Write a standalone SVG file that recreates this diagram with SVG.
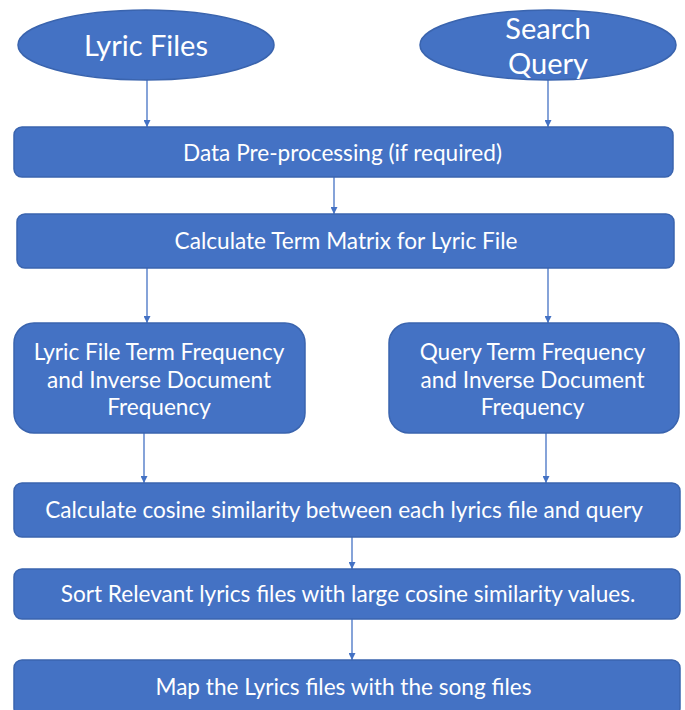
<svg xmlns="http://www.w3.org/2000/svg" width="685" height="710" viewBox="0 0 685 710">
<defs>
<style>
.n{fill:#4472C4;stroke:#3A64AE;stroke-width:1.5}
.t{fill:#fff;font-family:Lato,"Noto Sans",sans-serif;font-size:22.6px;text-anchor:middle;dominant-baseline:central}
.e{font-size:29px}
.c{stroke:#4472C4;stroke-width:1.3;fill:none;marker-end:url(#a)}
</style>
<marker id="a" viewBox="0 0 10 10" refX="10" refY="5" markerWidth="7" markerHeight="7" markerUnits="userSpaceOnUse" orient="auto"><path d="M0,0 L10,5 L0,10 z" fill="#4472C4"/></marker>
</defs>
<rect width="685" height="710" fill="#fff"/>
<g id="connectors">
<line class="c" x1="147" y1="80" x2="147" y2="127"/>
<line class="c" x1="548" y1="80" x2="548" y2="127"/>
<line class="c" x1="334" y1="177" x2="334" y2="214"/>
<line class="c" x1="147" y1="268" x2="147" y2="323"/>
<line class="c" x1="548" y1="268" x2="548" y2="323"/>
<line class="c" x1="144" y1="433" x2="144" y2="483"/>
<line class="c" x1="546" y1="433" x2="546" y2="483"/>
<line class="c" x1="352" y1="537" x2="352" y2="569"/>
<line class="c" x1="352" y1="619" x2="352" y2="660"/>
</g>
<g id="lyric-files"><ellipse class="n" cx="146" cy="45" rx="128" ry="35"/><text class="t e" x="146" y="44">Lyric Files</text></g>
<g id="search-query"><ellipse class="n" cx="548" cy="45" rx="128" ry="35"/><text class="t e" x="548" y="27">Search</text><text class="t e" x="548" y="62">Query</text></g>
<g id="preprocess"><rect class="n" x="14" y="127" width="659" height="50" rx="8"/><text class="t" x="342.5" y="152">Data Pre-processing (if required)</text></g>
<g id="term-matrix"><rect class="n" x="17" y="214" width="657" height="54" rx="8"/><text class="t" x="346" y="240">Calculate Term Matrix for Lyric File</text></g>
<g id="lyric-tfidf"><rect class="n" x="14" y="323" width="291" height="110" rx="20"/><text class="t" x="159" y="351">Lyric File Term Frequency</text><text class="t" x="159" y="379">and Inverse Document</text><text class="t" x="159" y="406">Frequency</text></g>
<g id="query-tfidf"><rect class="n" x="389" y="323" width="290" height="110" rx="20"/><text class="t" x="532.5" y="351">Query Term Frequency</text><text class="t" x="532.5" y="379">and Inverse Document</text><text class="t" x="532.5" y="406">Frequency</text></g>
<g id="cosine"><rect class="n" x="14" y="483" width="666" height="54" rx="8"/><text class="t" x="344" y="509">Calculate cosine similarity between each lyrics file and query</text></g>
<g id="sort"><rect class="n" x="14" y="569" width="666" height="50" rx="8"/><text class="t" x="348" y="593">Sort Relevant lyrics files with large cosine similarity values.</text></g>
<g id="map"><rect class="n" x="14" y="660" width="666" height="56" rx="8"/><text class="t" x="343.5" y="686">Map the Lyrics files with the song files</text></g>
</svg>
